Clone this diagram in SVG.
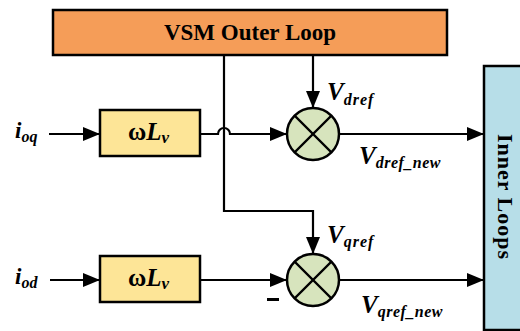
<svg xmlns="http://www.w3.org/2000/svg" width="520" height="331" viewBox="0 0 520 331">
<style>
.box{stroke:#000;stroke-width:2.5}
.ln{fill:none;stroke:#000;stroke-width:2.2}
.t{font-family:"Liberation Serif","Times New Roman",serif;font-weight:bold;fill:#000}
.it{font-style:italic}
</style>
<defs>
<marker id="ah" markerUnits="userSpaceOnUse" markerWidth="18" markerHeight="14" refX="17" refY="7" orient="auto">
<path d="M0,0 L17,7 L0,14 Z" fill="#000"/>
</marker>
</defs>
<rect width="520" height="331" fill="#fff"/>
<g id="connectors">
<path class="ln" d="M313,55 V108" marker-end="url(#ah)"/>
<path class="ln" d="M224,55 V211 H313 V254" marker-end="url(#ah)"/>
<path class="ln" d="M49,134 H100" marker-end="url(#ah)"/>
<path class="ln" d="M200,134 H218 A6,6 0 0 1 230,134 H287" marker-end="url(#ah)"/>
<path class="ln" d="M339,134 H484" marker-end="url(#ah)"/>
<path class="ln" d="M50,280 H100" marker-end="url(#ah)"/>
<path class="ln" d="M200,280 H287" marker-end="url(#ah)"/>
<path class="ln" d="M339,280 H484" marker-end="url(#ah)"/>
</g>
<g id="vsm">
<rect class="box" x="53" y="10" width="394" height="45" fill="#F59D58"/>
<text class="t" x="250" y="40" font-size="23" text-anchor="middle">VSM Outer Loop</text>
</g>
<g id="inner">
<rect class="box" x="484" y="66" width="40" height="264" fill="#B7DEE8"/>
<text class="t" font-size="22" text-anchor="middle" letter-spacing="1" transform="translate(498,197) rotate(90)">Inner Loops</text>
</g>
<g id="gain1">
<rect class="box" x="100" y="110" width="100" height="46" fill="#FDE597"/>
<text class="t" x="128" y="140" font-size="25">ω<tspan class="it">L</tspan><tspan class="it" font-size="17" dy="3">v</tspan></text>
</g>
<g id="gain2">
<rect class="box" x="100" y="256" width="100" height="46" fill="#FDE597"/>
<text class="t" x="128" y="286" font-size="25">ω<tspan class="it">L</tspan><tspan class="it" font-size="17" dy="3">v</tspan></text>
</g>
<g id="sum1">
<circle class="box" cx="313" cy="134" r="26" fill="#D7E4BD"/>
<path class="ln" d="M294.6,115.6 L331.4,152.4 M331.4,115.6 L294.6,152.4"/>
</g>
<g id="sum2">
<circle class="box" cx="313" cy="280" r="26" fill="#D7E4BD"/>
<path class="ln" d="M294.6,261.6 L331.4,298.4 M331.4,261.6 L294.6,298.4"/>
</g>
<g id="labels">
<text class="t it" x="15" y="138" font-size="23">i<tspan font-size="16" dy="4">oq</tspan></text>
<text class="t it" x="15" y="284" font-size="23">i<tspan font-size="16" dy="4">od</tspan></text>
<text class="t it" x="327" y="100" font-size="25">V<tspan font-size="16" dy="5" letter-spacing="1">dref</tspan></text>
<text class="t it" x="359" y="164" font-size="25">V<tspan font-size="16" dy="4" letter-spacing="0.5">dref_new</tspan></text>
<text class="t it" x="327" y="243" font-size="25">V<tspan font-size="16" dy="4" letter-spacing="1">qref</tspan></text>
<text class="t it" x="361" y="313" font-size="25">V<tspan font-size="16" dy="4" letter-spacing="0.5">qref_new</tspan></text>
<rect x="267" y="298" width="12" height="3" fill="#000"/>
</g>
</svg>
